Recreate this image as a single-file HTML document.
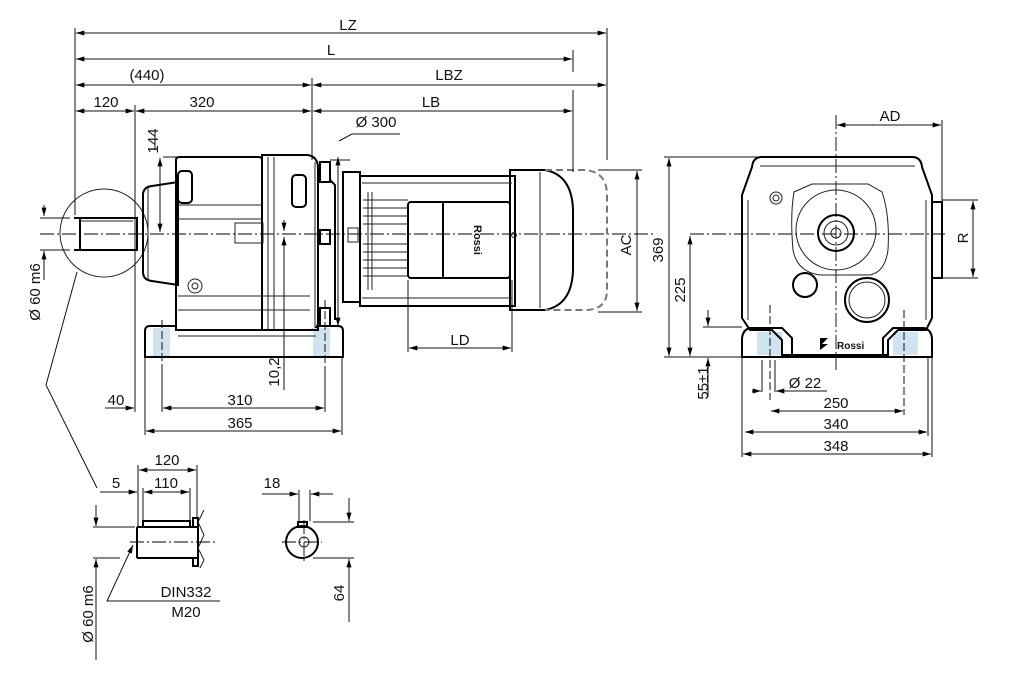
<!DOCTYPE html>
<html><head><meta charset="utf-8"><style>
html,body{margin:0;padding:0;background:#fff}
svg{display:block}
text{font-family:"Liberation Sans",sans-serif;font-size:15px;fill:#111}
.t{stroke:#111;stroke-width:1;fill:none}
.k{stroke:#000;stroke-width:2;fill:none}
.m{stroke:#222;stroke-width:1;fill:none}
.c{stroke:#000;stroke-width:0.9;fill:none;stroke-dasharray:14 3 2 3}
.d{stroke:#777;stroke-width:2;fill:none;stroke-dasharray:7 4}
.b{fill:#cfe3f0;stroke:none}
</style></head><body>
<svg width="1014" height="673" viewBox="0 0 1014 673" xmlns="http://www.w3.org/2000/svg">
<defs>
<marker id="a" viewBox="0 0 10 6" refX="10" refY="3" markerWidth="9" markerHeight="5" orient="auto-start-reverse" markerUnits="userSpaceOnUse"><path d="M0,0 L10,3 L0,6 Z" fill="#000"/></marker>
</defs>

<g class="t">
<line x1="75" y1="28" x2="75" y2="215"/>
<line x1="607" y1="28" x2="607" y2="160"/>
<line x1="573" y1="50" x2="573" y2="72"/>
<line x1="573" y1="90" x2="573" y2="165"/>
<line x1="135" y1="105" x2="135" y2="265"/>
<line x1="312" y1="78" x2="312" y2="160"/>
<line x1="76" y1="33" x2="606" y2="33" marker-start="url(#a)" marker-end="url(#a)"/>
<line x1="76" y1="59" x2="572" y2="59" marker-start="url(#a)" marker-end="url(#a)"/>
<line x1="76" y1="85" x2="311" y2="85" marker-start="url(#a)" marker-end="url(#a)"/>
<line x1="313" y1="85" x2="606" y2="85" marker-start="url(#a)" marker-end="url(#a)"/>
<line x1="76" y1="111" x2="134" y2="111" marker-start="url(#a)" marker-end="url(#a)"/>
<line x1="136" y1="111" x2="311" y2="111" marker-start="url(#a)" marker-end="url(#a)"/>
<line x1="313" y1="111" x2="572" y2="111" marker-start="url(#a)" marker-end="url(#a)"/>
</g>
<text x="348" y="30" text-anchor="middle">LZ</text>
<text x="331" y="55" text-anchor="middle">L</text>
<text x="147" y="80" text-anchor="middle">(440)</text>
<text x="449" y="80" text-anchor="middle">LBZ</text>
<text x="106" y="107" text-anchor="middle">120</text>
<text x="202" y="107" text-anchor="middle">320</text>
<text x="431" y="107" text-anchor="middle">LB</text>
<text x="376" y="127" text-anchor="middle">Ø 300</text>
<path class="t" d="M339,141 L352,134 L400,134"/>

<g class="t">
<line x1="155" y1="131" x2="155" y2="150"/>
<line x1="163" y1="157" x2="255" y2="157"/>
<line x1="160" y1="158" x2="160" y2="232" marker-start="url(#a)" marker-end="url(#a)"/>
</g>
<text transform="translate(158,141) rotate(-90)" text-anchor="middle">144</text>

<line class="c" x1="40" y1="234" x2="655" y2="234"/>

<g class="k">
<path d="M74,218 H137 V250 H74"/>
<line x1="80" y1="218" x2="80" y2="250"/>
</g>
<line class="m" x1="80" y1="221" x2="133" y2="221"/>
<circle class="m" cx="104" cy="233" r="44"/>
<path class="t" d="M77,272 L46,385 L97,488"/>
<g class="t"><line x1="44" y1="205" x2="44" y2="216" marker-end="url(#a)"/><line x1="44" y1="251" x2="44" y2="280" marker-start="url(#a)"/><line x1="40" y1="218" x2="70" y2="218"/><line x1="40" y1="250" x2="70" y2="250"/></g>
<text transform="translate(40,292) rotate(-90)" text-anchor="middle">Ø 60 m6</text>

<g class="k">
<path d="M143,245 V195 Q143,187 152,186 L178,182 V285 L152,281 Q143,280 143,272 Z"/>
<path d="M176,160 V330 H262 V160 Q262,157 258,157 H180 Q176,157 176,160 Z"/>
<path d="M262,155 H308 Q318,157 318,168 V322 Q318,330 310,330 H262 Z"/>
<rect x="178" y="171" width="14" height="32" rx="4"/>
<rect x="292" y="175" width="14" height="32" rx="4"/>
</g>
<g class="m">
<line x1="268" y1="157" x2="268" y2="330"/>
<line x1="274" y1="157" x2="274" y2="330"/>
<line x1="178" y1="205" x2="262" y2="205"/>
<line x1="178" y1="219" x2="262" y2="219"/>
<rect x="235" y="223" width="28" height="20"/>
<line x1="178" y1="296" x2="310" y2="296"/>
<line x1="178" y1="310" x2="310" y2="310"/>
<path d="M148,188 V280"/>
<line x1="315" y1="162" x2="315" y2="328"/>
<circle cx="195" cy="286" r="7"/><circle cx="195" cy="286" r="3"/>
</g>
<g class="k">
<path d="M320,162 H330 V182 H320 Z"/>
<path d="M320,230 H330 V244 H320 Z"/>
<path d="M320,308 H330 V326 H320 Z"/>
<path d="M330,180 L335,185 V320"/>
</g>
<g class="t"><line x1="284" y1="220" x2="284" y2="231" marker-end="url(#a)"/><line x1="284" y1="237" x2="284" y2="390" marker-start="url(#a)"/></g>
<text transform="translate(279,372) rotate(-90)" text-anchor="middle">10,2</text>

<path class="b" d="M153,328 H170 V356 H153 Z M313,328 H330 V356 H313 Z"/>
<g class="k">
<path d="M145,331 Q145,326 150,326 H176 V330 H318 V326 H338 Q343,326 343,331 V357 H145 Z"/>
</g>
<line class="m" x1="178" y1="336" x2="316" y2="336"/>
<g class="t" stroke-dasharray="8 3">
<line x1="162" y1="320" x2="162" y2="370"/>
<line x1="325" y1="300" x2="325" y2="370"/>
</g>
<g class="t">
<line x1="145" y1="357" x2="145" y2="435"/>
<line x1="342" y1="357" x2="342" y2="435"/>
<line x1="162" y1="370" x2="162" y2="412"/>
<line x1="325" y1="370" x2="325" y2="412"/>
<line x1="135" y1="265" x2="135" y2="412"/>
<line x1="105" y1="408" x2="134" y2="408" marker-end="url(#a)"/>
<line x1="163" y1="408" x2="324" y2="408" marker-start="url(#a)" marker-end="url(#a)"/>
<line x1="146" y1="431" x2="341" y2="431" marker-start="url(#a)" marker-end="url(#a)"/>
</g>
<text x="116" y="405" text-anchor="middle">40</text>
<text x="240" y="405" text-anchor="middle">310</text>
<text x="240" y="428" text-anchor="middle">365</text>

<g class="t"><line x1="338" y1="157" x2="338" y2="326" marker-start="url(#a)" marker-end="url(#a)"/><line x1="330" y1="160" x2="350" y2="160"/></g>

<g class="k">
<path d="M343,172 H360 V302 H343 Z"/>
<path d="M360,176 H515 V306 H360 Z"/>
<path d="M510,170 H545 Q572,175 573,210 V270 Q572,305 545,310 H510 Z"/>
<rect x="408" y="202" width="102" height="76" rx="3"/>
<line x1="443" y1="202" x2="443" y2="278"/>
</g>
<path class="d" d="M545,170 H585 Q607,172 607,195 V290 Q607,310 585,310 H545"/>
<g class="m">
<line x1="540" y1="172" x2="540" y2="308"/>
<line x1="362" y1="183" x2="512" y2="183"/>
<line x1="362" y1="298" x2="512" y2="298"/>
<line x1="363" y1="200" x2="408" y2="200"/><line x1="363" y1="208" x2="408" y2="208"/><line x1="363" y1="216" x2="408" y2="216"/><line x1="363" y1="224" x2="408" y2="224"/><line x1="363" y1="244" x2="408" y2="244"/><line x1="363" y1="252" x2="408" y2="252"/><line x1="363" y1="260" x2="408" y2="260"/><line x1="363" y1="268" x2="408" y2="268"/><line x1="363" y1="276" x2="408" y2="276"/>
<line x1="368" y1="192" x2="368" y2="290"/><line x1="372" y1="192" x2="372" y2="290"/>
<rect x="348" y="228" width="10" height="14"/>
<circle cx="514" cy="235" r="2.5"/>
</g>
<text transform="translate(474,240) rotate(90)" text-anchor="middle" style="font-size:11px;font-weight:bold">Rossi</text>
<g class="t"><line x1="408" y1="280" x2="408" y2="352"/><line x1="512" y1="280" x2="512" y2="352"/><line x1="409" y1="348" x2="511" y2="348" marker-start="url(#a)" marker-end="url(#a)"/></g>
<text x="460" y="345" text-anchor="middle">LD</text>
<g class="t"><line x1="598" y1="170" x2="642" y2="170"/><line x1="598" y1="312" x2="642" y2="312"/><line x1="637" y1="171" x2="637" y2="311" marker-start="url(#a)" marker-end="url(#a)"/><line x1="573" y1="160" x2="573" y2="172"/></g>
<text transform="translate(631,245) rotate(-90)" text-anchor="middle">AC</text>

<line class="c" x1="836" y1="115" x2="836" y2="370"/>
<line class="c" x1="690" y1="234" x2="945" y2="234"/>
<path class="b" d="M757,332 H782 V355 H757 Z M893,332 H918 V355 H893 Z"/>
<g class="k">
<path d="M762,157 H912 Q921,157 922,167 L932,195 V318 L926,330 H898 L888,340 V355 H782 V340 L772,330 H750 L742,318 V195 L752,167 Q753,157 762,157 Z"/>
<path d="M742,340 Q742,330 750,328 H782 L792,338 V357 H742 Z"/>
<path d="M932,340 Q932,330 924,328 H893 L883,338 V357 H932 Z"/>
<line x1="742" y1="357" x2="932" y2="357"/>
<rect x="932" y="202" width="10" height="76"/>
<circle cx="836" cy="233" r="18"/>
<circle cx="867" cy="300" r="22"/>
<circle cx="805" cy="285" r="12"/>
</g>
<g class="m">
<path d="M794,192 L812,184 H868 L882,192 Q890,215 888,250 Q885,272 870,275 L820,275 Q797,272 793,250 Q790,215 794,192 Z"/>
<circle cx="836" cy="230" r="40"/>
<circle cx="836" cy="233" r="12"/>
<circle cx="836" cy="233" r="5"/>
<circle cx="867" cy="300" r="18"/>
<circle cx="776" cy="198" r="6"/><circle cx="776" cy="198" r="3"/>
<line x1="760" y1="166" x2="915" y2="166"/>
<line x1="748" y1="200" x2="748" y2="320"/>
<line x1="926" y1="200" x2="926" y2="320"/>
</g>
<text x="837" y="349" style="font-size:10px;font-weight:bold">Rossi</text>
<path d="M820,338 h8 l-6,6 h6 l-8,6 Z" fill="#000"/>
<g class="t" stroke-dasharray="8 3"><line x1="770" y1="305" x2="770" y2="400"/><line x1="904" y1="310" x2="904" y2="415"/></g>
<g class="t">
<line x1="942" y1="120" x2="942" y2="205"/>
<line x1="837" y1="125" x2="941" y2="125" marker-start="url(#a)" marker-end="url(#a)"/>
<line x1="942" y1="200" x2="978" y2="200"/><line x1="942" y1="278" x2="978" y2="278"/>
<line x1="973" y1="201" x2="973" y2="277" marker-start="url(#a)" marker-end="url(#a)"/>
</g>
<text x="890" y="121" text-anchor="middle">AD</text>
<text transform="translate(968,238) rotate(-90)" text-anchor="middle">R</text>
<g class="t">
<line x1="664" y1="157" x2="760" y2="157"/>
<line x1="664" y1="357" x2="742" y2="357"/>
<line x1="669" y1="158" x2="669" y2="356" marker-start="url(#a)" marker-end="url(#a)"/>
<line x1="690" y1="236" x2="690" y2="356" marker-start="url(#a)" marker-end="url(#a)"/>
<line x1="703" y1="327" x2="742" y2="327"/>
<line x1="708" y1="310" x2="708" y2="326" marker-end="url(#a)"/>
<line x1="708" y1="358" x2="708" y2="397" marker-start="url(#a)"/>
<line x1="742" y1="357" x2="742" y2="457"/>
<line x1="932" y1="357" x2="932" y2="457"/>
<line x1="928" y1="357" x2="928" y2="436"/>
<line x1="762" y1="360" x2="762" y2="392"/><line x1="775" y1="360" x2="775" y2="392"/>
<line x1="752" y1="391" x2="761" y2="391" marker-end="url(#a)"/>
<line x1="776" y1="391" x2="827" y2="391" marker-start="url(#a)"/>
<line x1="771" y1="411" x2="903" y2="411" marker-start="url(#a)" marker-end="url(#a)"/>
<line x1="745" y1="432" x2="927" y2="432" marker-start="url(#a)" marker-end="url(#a)"/>
<line x1="743" y1="454" x2="931" y2="454" marker-start="url(#a)" marker-end="url(#a)"/>
</g>
<text transform="translate(663,250) rotate(-90)" text-anchor="middle">369</text>
<text transform="translate(685,290) rotate(-90)" text-anchor="middle">225</text>
<text transform="translate(708,383) rotate(-90)" text-anchor="middle">55±1</text>
<text x="805" y="388" text-anchor="middle">Ø 22</text>
<text x="836" y="408" text-anchor="middle">250</text>
<text x="836" y="429" text-anchor="middle">340</text>
<text x="836" y="451" text-anchor="middle">348</text>

<g class="k">
<path d="M137,527 H197 M137,558 H197 M137,527 V558"/>
<path d="M143,527 V521 H190 V527"/>
<path d="M193,527 V518 H198 V566 H193 V558"/>
</g>
<path class="m" d="M204,510 L198,522 L204,535 L198,548 L204,560 L200,568"/>
<line class="c" x1="130" y1="542" x2="215" y2="542"/>
<g class="t">
<line x1="138" y1="465" x2="138" y2="526"/>
<line x1="197" y1="465" x2="197" y2="518"/>
<line x1="143" y1="488" x2="143" y2="520"/>
<line x1="190" y1="488" x2="190" y2="520"/>
<line x1="139" y1="470" x2="196" y2="470" marker-start="url(#a)" marker-end="url(#a)"/>
<line x1="144" y1="492" x2="189" y2="492" marker-start="url(#a)" marker-end="url(#a)"/>
<line x1="100" y1="492" x2="137" y2="492" marker-end="url(#a)"/>
<line x1="93" y1="527" x2="135" y2="527"/>
<line x1="93" y1="558" x2="120" y2="558"/>
<line x1="96" y1="505" x2="96" y2="526" marker-end="url(#a)"/>
<line x1="96" y1="559" x2="96" y2="660" marker-start="url(#a)"/>
<path d="M220,601 H107 L133,545" marker-end="url(#a)"/>
</g>
<text x="167" y="465" text-anchor="middle">120</text>
<text x="166" y="488" text-anchor="middle">110</text>
<text x="116" y="488" text-anchor="middle">5</text>
<text transform="translate(93,614) rotate(-90)" text-anchor="middle">Ø 60 m6</text>
<text x="186" y="597" text-anchor="middle">DIN332</text>
<text x="186" y="617" text-anchor="middle">M20</text>

<g class="k">
<circle cx="302" cy="542" r="16"/>
<rect x="298" y="522" width="9" height="5"/>
</g>
<circle class="m" cx="304" cy="542" r="5"/>
<g class="c"><line x1="282" y1="542" x2="322" y2="542"/><line x1="304" y1="520" x2="304" y2="564"/></g>
<g class="t">
<line x1="299" y1="490" x2="299" y2="521"/>
<line x1="310" y1="490" x2="310" y2="521"/>
<line x1="262" y1="494" x2="298" y2="494" marker-end="url(#a)"/>
<line x1="311" y1="494" x2="333" y2="494" marker-start="url(#a)"/>
<line x1="313" y1="522" x2="354" y2="522"/>
<line x1="313" y1="558" x2="354" y2="558"/>
<line x1="349" y1="498" x2="349" y2="521" marker-end="url(#a)"/>
<line x1="349" y1="559" x2="349" y2="622" marker-start="url(#a)"/>
</g>
<text x="272" y="488" text-anchor="middle">18</text>
<text transform="translate(344,593) rotate(-90)" text-anchor="middle">64</text>
</svg>
</body></html>
